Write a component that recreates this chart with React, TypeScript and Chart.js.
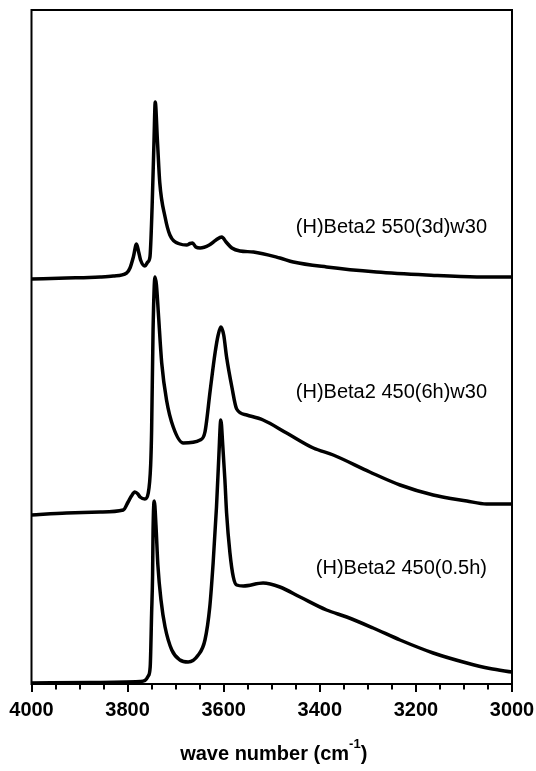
import React, { useEffect, useRef } from 'react';
import { Chart, registerables } from 'chart.js';

Chart.register(...registerables);

// ---- data (wavenumber in cm-1, intensity in arbitrary units, spectra offset vertically) ----
const wnTop = [4000, 3927, 3880, 3857, 3830, 3802, 3795, 3788, 3781.5, 3777, 3773, 3764, 3758, 3753.5, 3749, 3745, 3742.5, 3738, 3733, 3722, 3712, 3691, 3677, 3670, 3665, 3658, 3649, 3630, 3616, 3604, 3595, 3583, 3566, 3538, 3483, 3455, 3386, 3282, 3178, 3073, 3000];
const intTop = [405, 406, 406.5, 407, 408, 411, 416, 427, 440, 432, 424, 418, 422, 427, 477, 544, 582, 544, 501, 467, 449, 440, 439, 440.5, 441, 437, 436, 439, 444, 447, 442, 436, 433, 432, 426, 422, 417, 412, 409, 407, 407];

const wnMid = [4000, 3927, 3857, 3809, 3799, 3792, 3785, 3778.5, 3774, 3764, 3757, 3752, 3750, 3747, 3743, 3740, 3736, 3729, 3719, 3705, 3684, 3649, 3639, 3628, 3618, 3611.5, 3606, 3600, 3594, 3583, 3573, 3552, 3518, 3469, 3413.5, 3372, 3296, 3233, 3164, 3094, 3053, 3000];
const intMid = [169, 171, 172, 174, 182, 188, 192, 190, 187, 185, 191, 219, 254, 354, 407, 399, 371, 321, 284, 257, 241, 244, 252, 294, 331, 349, 357, 349, 327, 297, 275, 269, 264, 251, 236, 229, 212, 199, 189, 183, 180, 180];

const wnBot = [4000, 3878, 3774, 3764, 3757, 3753, 3750, 3748, 3747, 3744.5, 3741, 3737, 3730.5, 3722, 3708, 3691, 3674, 3653, 3639, 3629, 3622, 3615, 3610, 3606, 3602, 3597.5, 3594, 3587, 3580, 3573, 3559, 3518, 3483, 3441, 3386, 3344, 3289, 3233, 3164, 3094, 3046, 3000];
const intBot = [1, 1.5, 2.5, 3.5, 8, 17, 71, 109, 154, 183, 159, 119, 84, 57, 34, 24, 22, 29, 44, 77, 121, 177, 229, 264, 239, 204, 171, 131, 107, 99, 98, 101, 97, 87, 74, 67, 56, 44, 31, 21, 15.5, 12];

const seriesNames = ['(H)Beta2 550(3d)w30', '(H)Beta2 450(6h)w30', '(H)Beta2 450(0.5h)'];
const majorTicks = [4000, 3800, 3600, 3400, 3200, 3000];
const minorStep = 50;

// label anchors (right edge wavenumber, intensity level)
const labelWn = [3052, 3052, 3052];
const labelInt = [457, 292, 116];

const FONT = '"Liberation Sans", Arial, Helvetica, sans-serif';

const decorPlugin = {
  id: 'decor',
  afterDraw(chart: any) {
    const { ctx, chartArea: a, scales } = chart;
    const x = scales.x;
    const y = scales.y;
    ctx.save();
    ctx.strokeStyle = '#000';
    ctx.lineWidth = 2;
    ctx.strokeRect(a.left, a.top, a.right - a.left, a.bottom - a.top);
    // major and minor ticks
    for (let v = 3000; v <= 4000; v += minorStep) {
      const major = majorTicks.includes(v);
      const px = Math.round(x.getPixelForValue(v));
      ctx.beginPath();
      ctx.moveTo(px, a.bottom);
      ctx.lineTo(px, a.bottom + (major ? 8 : 5.5));
      ctx.stroke();
    }
    // series labels
    ctx.fillStyle = '#000';
    ctx.font = `20px ${FONT}`;
    ctx.textAlign = 'right';
    ctx.textBaseline = 'middle';
    seriesNames.forEach((name, i) => {
      ctx.fillText(name, x.getPixelForValue(labelWn[i]), y.getPixelForValue(labelInt[i]));
    });
    // axis title with superscript
    const main = 'wave number (cm';
    const sup = '-1';
    const end = ')';
    const bigFont = `bold 20px ${FONT}`;
    const smallFont = `bold 13px ${FONT}`;
    ctx.font = bigFont;
    const w1 = ctx.measureText(main).width;
    const w3 = ctx.measureText(end).width;
    ctx.font = smallFont;
    const w2 = ctx.measureText(sup).width;
    const total = w1 + w2 + w3;
    const cx = (a.left + a.right) / 2 + 2;
    let sx = cx - total / 2;
    const base = a.bottom + 76;
    ctx.textAlign = 'left';
    ctx.textBaseline = 'alphabetic';
    ctx.font = bigFont;
    ctx.fillText(main, sx, base);
    sx += w1;
    ctx.font = smallFont;
    ctx.fillText(sup, sx, base - 12);
    sx += w2;
    ctx.font = bigFont;
    ctx.fillText(end, sx, base);
    ctx.restore();
  },
};

export default function App() {
  const ref = useRef<HTMLCanvasElement | null>(null);
  useEffect(() => {
    if (!ref.current) return;
    const mk = (wn: number[], v: number[]) => wn.map((w, i) => ({ x: w, y: v[i] }));
    const ds = (label: string, data: any) => ({
      label,
      data,
      borderColor: '#000',
      borderWidth: 3.5,
      pointRadius: 0,
      fill: false,
      cubicInterpolationMode: 'monotone' as const,
    });
    const chart = new Chart(ref.current, {
      type: 'line',
      data: {
        datasets: [
          ds(seriesNames[0], mk(wnTop, intTop)),
          ds(seriesNames[1], mk(wnMid, intMid)),
          ds(seriesNames[2], mk(wnBot, intBot)),
        ],
      },
      options: {
        animation: false,
        responsive: false,
        devicePixelRatio: 1,
        layout: { padding: { left: 31.5, right: 24, top: 10, bottom: 0 } },
        plugins: { legend: { display: false }, tooltip: { enabled: false }, title: { display: false } },
        scales: {
          x: {
            type: 'linear',
            reverse: true,
            min: 3000,
            max: 4000,
            afterFit(scale: any) {
              scale.height = 87;
            },
            ticks: {
              stepSize: 200,
              autoSkip: false,
              maxRotation: 0,
              padding: 0,
              color: '#000',
              font: { family: FONT, size: 20, weight: 'bold' },
              callback: (v: any) => String(v),
            },
            grid: {
              display: true,
              drawOnChartArea: false,
              drawTicks: true,
              tickLength: 14,
              tickWidth: 0,
              tickColor: 'rgba(0,0,0,0)',
            },
            border: { display: true, color: '#000', width: 2 },
          },
          y: {
            type: 'linear',
            display: false,
            min: 0,
            max: 674,
          },
        },
      },
      plugins: [decorPlugin],
    });
    return () => chart.destroy();
  }, []);
  return (
    <div style={{ position: 'absolute', left: 0, top: 0, width: 536, height: 771, background: '#fff' }}>
      <canvas ref={ref} width={536} height={771} style={{ width: 536, height: 771, display: 'block' }} />
    </div>
  );
}
